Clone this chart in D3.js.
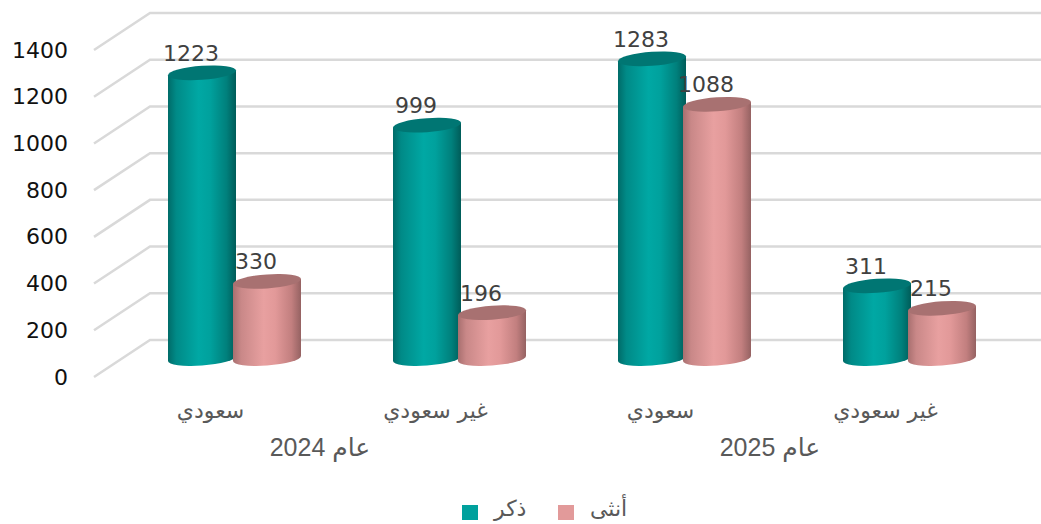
<!DOCTYPE html>
<html>
<head>
<meta charset="utf-8">
<script src="https://cdn.jsdelivr.net/npm/d3@7"></script>
<style>
  body { margin: 0; background: #fff; }
  svg { display: block; }
</style>
</head>
<body>
<div id="svg-container"></div>
<script>
/* global d3 */
(function () {
  'use strict'

  // Data
  var categories = ['سعودي', 'غير سعودي', 'سعودي', 'غير سعودي']
  var years = ['عام 2024', 'عام 2025']
  var seriesNames = ['ذكر', 'أنثى']
  var male = [1223, 999, 1283, 311]
  var female = [330, 196, 1088, 215]
  var yTicks = [0, 200, 400, 600, 800, 1000, 1200, 1400]

  // Dimensions and stuff
  var w = 1041
  var h = 524
  var depthX = 56
  var depthY = 37
  var backLeft = 150
  var barWidth = 68
  var colors = { 'ذكر': 'teal', 'أنثى': 'pink' }

  var s = d3.select('#svg-container').append('svg')
    .attr('width', w)
    .attr('height', h)

  // Gradients for the cylinders
  var defs = s.append('defs')
  var grads = {
    teal: [['0', '#006b68'], ['0.12', '#008a87'], ['0.45', '#00a8a4'], ['0.62', '#00a19d'], ['0.86', '#00807c'], ['1', '#005c59']],
    pink: [['0', '#a86f6f'], ['0.12', '#c98888'], ['0.45', '#e8a0a0'], ['0.62', '#e29999'], ['0.86', '#c27f7f'], ['1', '#956262']]
  }
  Object.keys(grads).forEach(function (k) {
    var g = defs.append('linearGradient')
      .attr('id', 'grad-' + k)
      .attr('x1', 0).attr('x2', 1).attr('y1', 0).attr('y2', 0)
    grads[k].forEach(function (st) {
      g.append('stop').attr('offset', st[0]).attr('stop-color', st[1])
    })
  })
  var topColor = { teal: '#007673', pink: '#a87171' }

  // Scales (back wall)
  var yScale = d3.scaleLinear().domain([0, 1400]).range([340, 13])
  var midX = backLeft - depthX / 2
  var x0 = d3.scaleBand().domain(d3.range(categories.length))
    .range([midX, midX + 900])
  var x1 = d3.scaleBand().domain(seriesNames).range([-65, 65])

  // Gridlines: diagonal on the side wall, then straight along the back
  var grid = s.append('g').attr('class', 'grid')
  grid.selectAll('path').data(yTicks).enter().append('path')
    .attr('d', function (d) {
      var yb = yScale(d)
      return 'M' + (backLeft - depthX) + ',' + (yb + depthY) +
        'L' + backLeft + ',' + yb + 'L' + w + ',' + yb
    })
    .attr('fill', 'none')
    .attr('stroke', '#d9d9d9')
    .attr('stroke-width', 2.5)

  // Y labels on the front edge
  s.append('g').selectAll('text').data(yTicks).enter().append('text')
    .attr('x', 68)
    .attr('y', function (d) { return yScale(d) + depthY })
    .attr('text-anchor', 'end')
    .attr('dominant-baseline', 'central')
    .attr('font-family', 'DejaVu Sans, sans-serif')
    .attr('font-size', 22)
    .attr('fill', '#111')
    .text(function (d) { return d })

  // Bars
  var bars = []
  categories.forEach(function (c, i) {
    bars.push({ i: i, s: seriesNames[0], v: male[i] })
    bars.push({ i: i, s: seriesNames[1], v: female[i] })
  })

  var baseY = yScale(0) + depthY / 2
  var rx = barWidth / 2
  var ry = 7

  var cyl = s.append('g').attr('class', 'chart-area')
    .selectAll('g').data(bars).enter().append('g')
    .attr('transform', function (d) {
      var cx = x0(d.i) + x0.bandwidth() / 2 + x1(d.s) + x1.bandwidth() / 2
      return 'translate(' + cx + ',' + baseY + ') skewY(-4)'
    })

  cyl.append('path')
    .attr('d', function (d) {
      var top = -(yScale(0) - yScale(d.v))
      return 'M' + (-rx) + ',' + top + 'L' + (-rx) + ',0' +
        'A' + rx + ',' + ry + ' 0 0 0 ' + rx + ',0' +
        'L' + rx + ',' + top + 'Z'
    })
    .attr('fill', function (d) { return 'url(#grad-' + colors[d.s] + ')' })

  cyl.append('ellipse')
    .attr('cx', 0)
    .attr('cy', function (d) { return -(yScale(0) - yScale(d.v)) })
    .attr('rx', rx)
    .attr('ry', ry)
    .attr('fill', function (d) { return topColor[colors[d.s]] })

  // Value labels
  s.append('g').selectAll('text').data(bars).enter().append('text')
    .attr('x', function (d) {
      return x0(d.i) + x0.bandwidth() / 2 + x1(d.s) + x1.bandwidth() / 2 - 11
    })
    .attr('y', function (d) { return baseY - (yScale(0) - yScale(d.v)) - 12 })
    .attr('text-anchor', 'middle')
    .attr('font-family', 'DejaVu Sans, sans-serif')
    .attr('font-size', 22)
    .attr('fill', '#404040')
    .text(function (d) { return d.v })

  // Category labels (front edge)
  var shift = -24
  s.append('g').selectAll('text').data(categories).enter().append('text')
    .attr('x', function (d, i) { return x0(i) + x0.bandwidth() / 2 + shift })
    .attr('y', 410)
    .attr('text-anchor', 'middle')
    .attr('dominant-baseline', 'central')
    .attr('direction', 'rtl')
    .attr('font-family', 'DejaVu Sans, sans-serif')
    .attr('font-size', 22)
    .attr('fill', '#595959')
    .text(function (d) { return d })

  s.append('g').selectAll('text').data(years).enter().append('text')
    .attr('x', function (d, i) { return x0(i * 2 + 1) + shift - 3 })
    .attr('y', 447)
    .attr('text-anchor', 'middle')
    .attr('dominant-baseline', 'central')
    .attr('direction', 'rtl')
    .attr('font-family', 'Liberation Sans, DejaVu Sans, sans-serif')
    .attr('font-size', 25)
    .attr('fill', '#595959')
    .text(function (d) { return d })

  // Legend
  var legendX = [462, 558]
  var legend = s.append('g').selectAll('g').data(seriesNames).enter().append('g')
    .attr('transform', function (d, i) { return 'translate(' + legendX[i] + ',505)' })
  legend.append('rect')
    .attr('width', 16)
    .attr('height', 15)
    .attr('fill', function (d) { return colors[d] === 'teal' ? '#00a19d' : '#e29a9a' })
  legend.append('text')
    .attr('x', 32)
    .attr('y', 3)
    .attr('dominant-baseline', 'central')
    .attr('font-family', 'DejaVu Sans, sans-serif')
    .attr('font-size', 22)
    .attr('fill', '#595959')
    .text(function (d) { return d })
}())
</script>
</body>
</html>
